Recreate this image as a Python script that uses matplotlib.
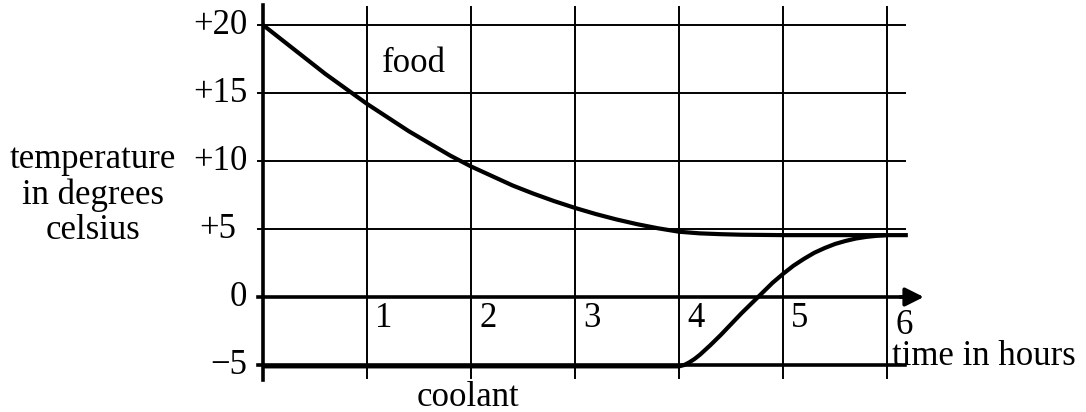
import numpy as np
import matplotlib.pyplot as plt

# values
hours = [0, 1, 2, 3, 4, 5, 6]
temps = [20, 15, 10, 5, 0, -5]
temp_labels = ['+20', '+15', '+10', '+5', '0', '\u22125']

food_t = [0, 0.2, 0.4, 0.6, 0.8, 1.0, 1.2, 1.4, 1.6, 1.8, 2.0, 2.2, 2.4, 2.6,
          2.8, 3.0, 3.2, 3.4, 3.6, 3.8, 4.0, 4.2, 4.4, 4.6, 5.0, 5.5, 6.0, 6.2]
food_v = [20, 18.8, 17.6, 16.4, 15.3, 14.2, 13.2, 12.2, 11.3, 10.4, 9.6, 8.9, 8.2, 7.6,
          7.05, 6.55, 6.1, 5.7, 5.35, 5.05, 4.8, 4.68, 4.62, 4.58, 4.55, 4.55, 4.55, 4.55]

coolant_t = [0, 2, 4.0, 4.05, 4.1, 4.15, 4.2, 4.25, 4.3, 4.4, 4.5, 4.6, 4.7, 4.8,
             4.9, 5.0, 5.1, 5.2, 5.3, 5.4, 5.5, 5.6, 5.7, 5.8, 5.9, 6.0]
coolant_v = [-5.1, -5.1, -5.1, -5.0, -4.8, -4.55, -4.25, -3.9, -3.55, -2.8, -2.0, -1.2, -0.45, 0.3,
             1.05, 1.7, 2.3, 2.8, 3.25, 3.6, 3.9, 4.12, 4.3, 4.42, 4.5, 4.55]

fig = plt.figure(figsize=(10.86, 4.12), dpi=100)
ax = fig.add_axes([0, 0, 1, 1])
ax.set_xlim(-2.529, 7.913)
ax.set_ylim(-8.456, 21.84)
ax.axis('off')

serif = 'Liberation Serif'
fs = 25

# grid
for h in hours:
    lw = 2.6 if h == 0 else 1.4
    ax.plot([h, h], [-5.95 if h else -6.1, 21.3 if h else 21.5], color='black', lw=lw)
for v in temps:
    if v == 0:
        continue
    lw = 2.6 if v == -5 else 1.4
    ax.plot([-0.05, 6.17], [v, v], color='black', lw=lw)

# x axis with arrow
ax.plot([-0.05, 6.2], [0, 0], color='black', lw=2.6)
ax.annotate('', xy=(6.38, 0), xytext=(6.1, 0),
            arrowprops=dict(arrowstyle='-|>', color='black', lw=2.6, mutation_scale=28))

# curves
ax.plot(food_t, food_v, color='black', lw=3, solid_capstyle='butt', solid_joinstyle='round')
ax.plot(coolant_t, coolant_v, color='black', lw=3, solid_capstyle='butt', solid_joinstyle='round')

# tick labels
for v, lab in zip(temps, temp_labels):
    x = -0.26 if v == 5 else -0.15
    ax.text(x, v, lab, ha='right', va='center', family=serif, fontsize=fs)
for h in hours[1:]:
    y = -2.1 if h == 6 else -1.55
    ax.text(h + 0.08, y, str(h), ha='left', va='center', family=serif, fontsize=fs)

ax.text(6.05, -4.4, 'time in hours', ha='left', va='center', family=serif, fontsize=fs)
ax.text(1.97, -7.4, 'coolant', ha='center', va='center', family=serif, fontsize=fs)
ax.text(1.14, 17.2, 'food', ha='left', va='center', family=serif, fontsize=fs)
ax.text(-1.635, 7.5, 'temperature\nin degrees\ncelsius', ha='center', va='center',
        family=serif, fontsize=fs, linespacing=1.1)

plt.savefig('out.png', dpi=100)
